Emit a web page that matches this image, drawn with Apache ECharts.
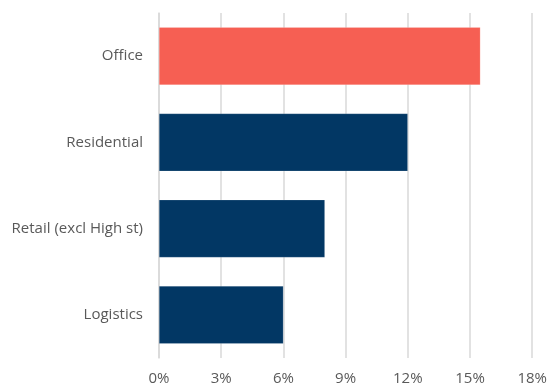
<!DOCTYPE html>
<html><head><meta charset="utf-8">
<script src="https://cdn.jsdelivr.net/npm/echarts@6/dist/echarts.min.js"></script>
<style>html,body{margin:0;padding:0;background:#fff}#c{width:550px;height:387px}</style>
</head><body><div id="c"></div>
<script>
const categories = ["Office", "Residential", "Retail (excl High st)", "Logistics"];
const values = [15.5, 12, 8, 6];
const barColors = ["#F65F53", "#023764", "#023764", "#023764"];
const xTicks = [0, 3, 6, 9, 12, 15, 18];

const chart = echarts.init(document.getElementById('c'), null, {renderer: 'canvas'});
chart.setOption({
  animation: false,
  backgroundColor: '#fff',
  grid: {left: 159, right: 13, top: 13, bottom: 29, containLabel: false},
  xAxis: {
    type: 'value', min: xTicks[0], max: xTicks[xTicks.length - 1], interval: 3,
    axisLine: {show: false}, axisTick: {show: false},
    splitLine: {show: true, lineStyle: {color: '#d9d9d9', width: 1.5}},
    axisLabel: {formatter: v => v + '%', color: '#595959', fontSize: 15, fontFamily: 'Open Sans', margin: 13}
  },
  yAxis: {
    type: 'category', data: categories, inverse: true,
    axisLine: {show: true, lineStyle: {color: '#d9d9d9', width: 1.5}},
    axisTick: {show: false},
    axisLabel: {color: '#595959', fontSize: 15, fontFamily: 'Open Sans', margin: 16}
  },
  series: [{
    type: 'bar', barCategoryGap: '33%',
    data: values.map((v, i) => ({value: v, itemStyle: {color: barColors[i]}})),
    itemStyle: {borderColor: 'rgba(255,255,255,0.35)', borderWidth: 0.5}
  }]
});
</script></body></html>
